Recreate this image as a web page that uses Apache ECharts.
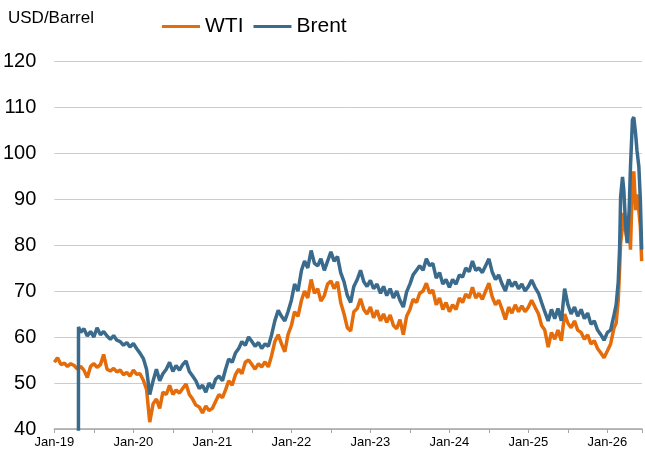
<!DOCTYPE html>
<html lang="en">
<head>
    <meta charset="UTF-8">
    <title>WTI vs Brent</title>
    <script src="https://cdn.jsdelivr.net/npm/echarts@6/dist/echarts.min.js"></script>
    <style>
        html, body { margin: 0; padding: 0; background: #fff; }
        #chart { width: 645px; height: 455px; }
    </style>
</head>
<body>
<div id="chart"></div>
<script>
    // semi-monthly readings, plus a few extra dates where the picture moves fast
    var dates = [
        '2019-01-01', '2019-01-16', '2019-02-01', '2019-02-16', '2019-03-01', '2019-03-16', '2019-04-01', '2019-04-16', '2019-04-20', '2019-04-21',
        '2019-05-01', '2019-05-16', '2019-06-01', '2019-06-16', '2019-07-01', '2019-07-16', '2019-08-01', '2019-08-16', '2019-09-01', '2019-09-16',
        '2019-10-01', '2019-10-16', '2019-11-01', '2019-11-16', '2019-12-01', '2019-12-16',
        '2020-01-01', '2020-01-16', '2020-02-01', '2020-02-16', '2020-03-01', '2020-03-16', '2020-04-01', '2020-04-16', '2020-05-01', '2020-05-16',
        '2020-06-01', '2020-06-16', '2020-07-01', '2020-07-16', '2020-08-01', '2020-08-16', '2020-09-01', '2020-09-16', '2020-10-01', '2020-10-16',
        '2020-11-01', '2020-11-16', '2020-12-01', '2020-12-16',
        '2021-01-01', '2021-01-16', '2021-02-01', '2021-02-16', '2021-03-01', '2021-03-16', '2021-04-01', '2021-04-16', '2021-05-01', '2021-05-16',
        '2021-06-01', '2021-06-16', '2021-07-01', '2021-07-16', '2021-08-01', '2021-08-16', '2021-09-01', '2021-09-16', '2021-10-01', '2021-10-16',
        '2021-11-01', '2021-11-16', '2021-12-01', '2021-12-16',
        '2022-01-01', '2022-01-16', '2022-02-01', '2022-02-16', '2022-03-01', '2022-03-16', '2022-04-01', '2022-04-16', '2022-05-01', '2022-05-16',
        '2022-06-01', '2022-06-16', '2022-07-01', '2022-07-16', '2022-08-01', '2022-08-16', '2022-09-01', '2022-09-16', '2022-10-01', '2022-10-16',
        '2022-11-01', '2022-11-16', '2022-12-01', '2022-12-16',
        '2023-01-01', '2023-01-16', '2023-02-01', '2023-02-16', '2023-03-01', '2023-03-16', '2023-04-01', '2023-04-16', '2023-05-01', '2023-05-16',
        '2023-06-01', '2023-06-16', '2023-07-01', '2023-07-16', '2023-08-01', '2023-08-16', '2023-09-01', '2023-09-16', '2023-10-01', '2023-10-16',
        '2023-11-01', '2023-11-16', '2023-12-01', '2023-12-16',
        '2024-01-01', '2024-01-16', '2024-02-01', '2024-02-16', '2024-03-01', '2024-03-16', '2024-04-01', '2024-04-16', '2024-05-01', '2024-05-16',
        '2024-06-01', '2024-06-16', '2024-07-01', '2024-07-16', '2024-08-01', '2024-08-16', '2024-09-01', '2024-09-16', '2024-10-01', '2024-10-16',
        '2024-11-01', '2024-11-16', '2024-12-01', '2024-12-16',
        '2025-01-01', '2025-01-16', '2025-02-01', '2025-02-16', '2025-03-01', '2025-03-16', '2025-04-01', '2025-04-16', '2025-05-01', '2025-05-16',
        '2025-06-01', '2025-06-16', '2025-07-01', '2025-07-16', '2025-08-01', '2025-08-16', '2025-09-01', '2025-09-16', '2025-10-01', '2025-10-16',
        '2025-11-01', '2025-11-16', '2025-12-01', '2025-12-16',
        '2026-01-01', '2026-01-16', '2026-02-01', '2026-02-10', '2026-02-19', '2026-02-25', '2026-03-01', '2026-03-10', '2026-03-16', '2026-03-25',
        '2026-04-01', '2026-04-10', '2026-04-16', '2026-04-25', '2026-05-01', '2026-05-10', '2026-05-16', '2026-05-25', '2026-06-01', '2026-06-07'
    ];

    var wti = [
        54.5, 55.5, 54.0, 54.3, 53.6, 54.2, 53.8, 53.0, 53.4, 53.5,
        53.6, 52.8, 51.2, 53.6, 54.2, 53.4, 54.0, 56.2, 53.0, 52.6,
        53.2, 52.4, 52.8, 51.8, 52.3, 51.5,
        52.8, 51.9, 52.0, 50.6, 48.6, 41.5, 45.5, 46.5, 44.5, 48.0,
        47.5, 49.5, 47.5, 48.5, 47.8, 48.8, 49.8, 47.5, 46.5, 45.2,
        44.8, 43.5, 45.0, 44.0,
        44.5, 46.0, 47.5, 46.8, 48.5, 50.5, 49.5, 51.8, 53.0, 52.0,
        54.5, 55.0, 54.0, 53.0, 54.2, 53.5, 54.6, 53.5, 56.0, 59.0,
        60.5, 58.5, 56.8, 60.5,
        62.5, 65.5, 64.5, 68.0, 70.0, 68.5, 72.5, 69.5, 70.5, 67.8,
        69.0, 71.5, 72.2, 70.5, 72.0, 67.5, 65.0, 62.0, 61.3, 65.5,
        66.2, 68.3, 66.0, 65.0,
        66.5, 64.2, 65.8, 63.5, 65.0, 63.2, 64.8, 62.5, 61.8, 63.8,
        60.5, 64.5, 66.0, 68.2, 67.5, 69.5, 70.0, 71.7, 69.5, 70.2,
        67.0, 68.5, 66.0, 67.5,
        65.5, 67.0, 66.0, 68.5, 67.5, 69.3, 68.5, 70.8, 68.5, 69.5,
        68.2, 70.0, 71.7, 68.8, 67.0, 68.0, 66.0, 63.8, 66.5, 65.2,
        67.0, 65.5, 66.8, 65.5,
        66.5, 68.0, 66.5, 65.0, 62.5, 61.5, 57.8, 61.0, 59.5, 61.5,
        59.2, 65.0, 63.0, 62.0, 63.5, 61.5, 61.0, 59.5, 60.5, 58.5,
        59.2, 57.5, 56.5, 55.5,
        57.0, 58.5, 62.0, 63.0, 68.0, 75.0, 80.4, 84.0, 87.0, 83.0,
        81.0, 84.0, 79.0, 94.0, 96.0, 87.6, 91.0, 87.5, 84.0, 76.5
    ];

    // Brent series starts in April 2019 with a bad first print (below the axis)
    var brent = [
        null, null, null, null, null, null, null, null, 0, 62.2,
        61.0, 61.8, 60.2, 61.2, 60.0, 62.0, 60.5, 61.2, 60.2, 59.5,
        60.3, 59.3, 59.0, 58.2, 58.8, 57.8,
        58.6, 57.5, 56.5, 55.3, 53.0, 47.5, 50.5, 53.0, 50.5, 52.0,
        53.0, 54.5, 52.5, 53.8, 52.8, 54.0, 54.8, 52.5, 51.5, 50.5,
        48.8, 49.5, 48.0, 50.0,
        48.8, 50.8, 51.5, 50.5, 53.0, 55.2, 54.5, 56.5, 57.5, 59.0,
        58.2, 60.0, 59.0, 58.0, 58.8, 57.5, 58.5, 58.0, 60.5, 63.5,
        65.8, 64.5, 63.5, 65.5,
        68.0, 71.5, 70.0, 74.5, 76.5, 75.0, 78.8, 76.0, 75.5, 77.0,
        74.5, 76.5, 78.5, 76.5, 77.5, 74.0, 72.0, 69.0, 67.5, 71.0,
        72.5, 74.5, 72.0, 71.0,
        72.3, 70.5, 71.5, 69.5, 71.0, 69.0, 70.5, 68.5, 70.0, 68.0,
        66.5, 69.8, 71.5, 73.5, 74.5, 75.5, 74.5, 77.0, 75.5, 76.0,
        72.8, 74.0, 71.5, 72.5,
        70.8, 72.5, 71.5, 73.5, 73.0, 75.0, 74.2, 76.5, 74.5, 75.0,
        74.0, 75.5, 77.0, 74.2, 72.5, 73.5, 71.5, 70.0, 72.5, 71.0,
        72.0, 70.5, 71.5, 70.0,
        71.0, 72.4, 70.8, 69.5, 67.5, 65.5, 63.5, 66.0, 64.0, 66.2,
        63.5, 70.5, 67.0, 65.0, 66.5, 64.5, 66.0, 64.0, 65.2, 62.8,
        63.5, 61.5, 60.5, 59.3,
        61.0, 61.5, 64.8, 67.0, 72.0, 79.6, 90.4, 94.8, 92.0, 84.0,
        80.4, 87.6, 97.0, 107.2, 107.8, 104.0, 100.6, 97.0, 89.8, 79.0
    ];

    var seriesNames = ['WTI', 'Brent'];
    var seriesColors = ['#E46C0A', '#3A6A8C'];

    // months since Jan 2019, so the x axis can tick every six months
    function monthIndex(s) {
        var p = s.split('-').map(Number);
        var dim = new Date(Date.UTC(p[0], p[1], 0)).getUTCDate();
        return (p[0] - 2019) * 12 + (p[1] - 1) + (p[2] - 1) / dim;
    }

    function pairs(values) {
        var out = [];
        for (var i = 0; i < dates.length; i++) {
            if (values[i] === null) continue;
            out.push([monthIndex(dates[i]), values[i]]);
        }
        return out;
    }

    var chart = echarts.init(document.getElementById('chart'));
    var axisGrey = '#a6a6a6';

    var option = {
        animation: false,
        textStyle: { fontFamily: 'Liberation Sans, Arial, sans-serif', color: '#000' },
        title: {
            text: 'USD/Barrel',
            left: 3,
            top: 5,
            textStyle: { fontSize: 17, fontWeight: 'normal', color: '#000' }
        },
        legend: {
            data: seriesNames,
            left: 157,
            top: 11,
            icon: 'rect',
            itemWidth: 38,
            itemHeight: 3,
            itemGap: 10,
            textStyle: { fontSize: 21, color: '#000' }
        },
        grid: { left: 53, right: 0, top: 61, bottom: 26 },
        xAxis: {
            type: 'value',
            min: 0,
            max: 89.25,
            interval: 6,
            axisLine: { lineStyle: { color: axisGrey, width: 1.5 } },
            axisTick: { show: true, length: 4, lineStyle: { color: axisGrey } },
            splitLine: { show: false },
            axisLabel: {
                fontSize: 13,
                color: '#000',
                margin: 7,
                formatter: function (v) {
                    if (v % 12 !== 0) return '';
                    return 'Jan-' + (19 + v / 12);
                }
            }
        },
        yAxis: {
            type: 'value',
            min: 40,
            max: 120,
            interval: 10,
            axisLine: { show: false },
            axisTick: { show: false },
            splitLine: { lineStyle: { color: '#cccccc', width: 1 } },
            axisLabel: { fontSize: 20, color: '#000', margin: 18 }
        },
        series: [
            {
                name: seriesNames[0],
                type: 'line',
                data: pairs(wti),
                showSymbol: false,
                symbol: 'none',
                color: seriesColors[0],
                lineStyle: { width: 3.5, color: seriesColors[0] }
            },
            {
                name: seriesNames[1],
                type: 'line',
                data: pairs(brent),
                showSymbol: false,
                symbol: 'none',
                color: seriesColors[1],
                lineStyle: { width: 3.5, color: seriesColors[1] }
            }
        ]
    };

    chart.setOption(option);
</script>
</body>
</html>
